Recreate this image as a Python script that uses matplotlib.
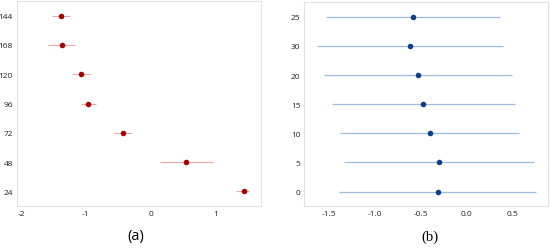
import matplotlib.pyplot as plt

# panel (a)
cats_a = ["24", "48", "72", "96", "120", "168", "144"]
est_a = [1.43, 0.55, -0.43, -0.96, -1.07, -1.37, -1.38]
lo_a = [1.32, 0.14, -0.57, -1.07, -1.22, -1.58, -1.52]
hi_a = [1.52, 0.96, -0.29, -0.85, -0.92, -1.16, -1.25]

# panel (b)
cats_b = ["0", "5", "10", "15", "20", "30", "25"]
est_b = [-0.31, -0.30, -0.40, -0.47, -0.53, -0.61, -0.585]
lo_b = [-1.38, -1.33, -1.37, -1.46, -1.55, -1.62, -1.525]
hi_b = [0.75, 0.73, 0.57, 0.53, 0.495, 0.39, 0.36]

plt.rcParams["font.family"] = ["Open Sans", "DejaVu Sans"]

fig = plt.figure(figsize=(5.5, 2.51), dpi=100)
ax1 = fig.add_axes([0.031, 0.175, 0.4436, 0.817])
ax2 = fig.add_axes([0.5536, 0.175, 0.443, 0.812])


def forest(ax, cats, est, lo, hi, line_c, dot_c, lw):
    y = range(len(cats))
    ax.hlines(y, lo, hi, color=line_c, lw=lw, zorder=1)
    ax.scatter(est, y, s=16, color=dot_c, zorder=2, linewidths=0)
    ax.set_yticks(list(y))
    ax.set_yticklabels(cats)
    ax.set_ylim(-0.5, len(cats) - 0.5)
    for s in ax.spines.values():
        s.set_color("#e2e2e2")
        s.set_linewidth(0.8)
    ax.tick_params(labelsize=6, length=0, pad=3, colors="#222222")


forest(ax1, cats_a, est_a, lo_a, hi_a, "#eaa8a8", "#a80000", 0.8)
ax1.set_xlim(-2.06, 1.70)
ax1.set_xticks([-2, -1, 0, 1])
ax1.set_xticklabels(["-2", "-1", "0", "1"])

forest(ax2, cats_b, est_b, lo_b, hi_b, "#9fbcdc", "#0b3f8c", 0.9)
ax2.set_xlim(-1.76, 0.885)
ax2.set_xticks([-1.5, -1.0, -0.5, 0.0, 0.5])
ax2.set_xticklabels(["-1.5", "-1.0", "-0.5", "0.0", "0.5"])

fig.text(0.247, 0.056, "(a)", ha="center", va="center", fontsize=10.5,
         family=["Open Sans", "DejaVu Sans"])
fig.text(0.782, 0.056, "(b)", ha="center", va="center", fontsize=10.5,
         family=["Liberation Serif", "DejaVu Serif"])

fig.savefig("out.png", dpi=100)
